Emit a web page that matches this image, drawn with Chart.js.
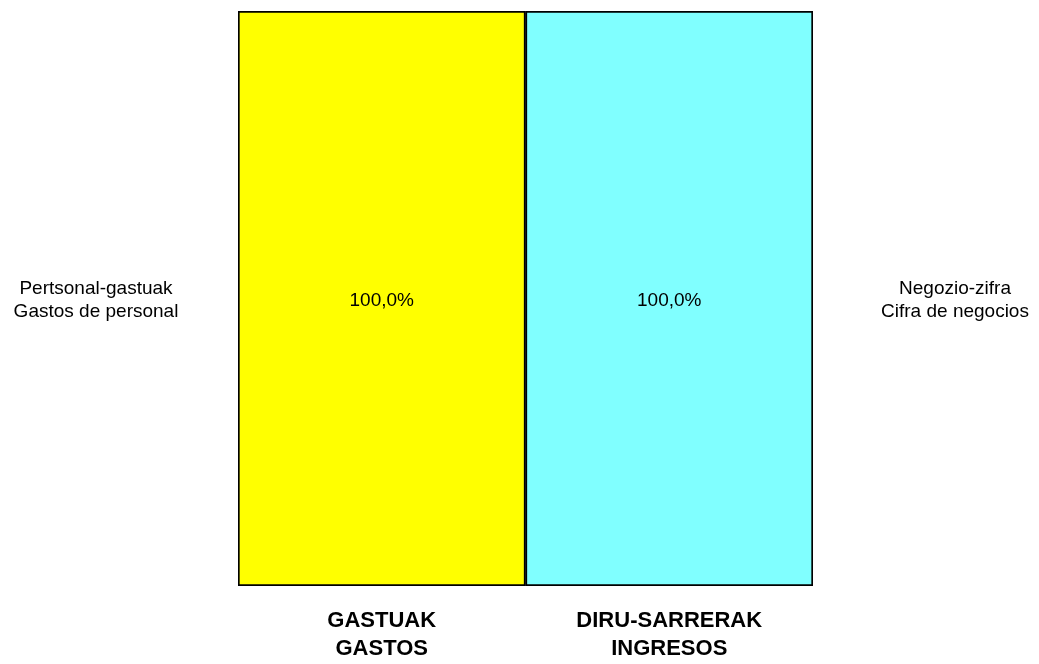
<!DOCTYPE html>
<html>
<head>
<meta charset="utf-8">
<script src="https://cdn.jsdelivr.net/npm/chart.js@4/dist/chart.umd.min.js"></script>
<style>
html,body{margin:0;padding:0;background:#fff;}
#wrap{width:1039px;height:664px;position:relative;}
</style>
</head>
<body>
<div id="wrap"><canvas id="c" width="1039" height="664"></canvas></div>
<script>
const categories = [["GASTUAK","GASTOS"],["DIRU-SARRERAK","INGRESOS"]];
const values = [100.0, 100.0];
const valueLabels = ["100,0%", "100,0%"];
const sideLabels = [["Pertsonal-gastuak","Gastos de personal"],["Negozio-zifra","Cifra de negocios"]];
const colors = ["#FFFF00", "#80FFFF"];

const FONT = "'Liberation Sans', Arial, sans-serif";

const labelPlugin = {
  id: 'labels',
  afterDatasetsDraw(chart) {
    const ctx = chart.ctx;
    const meta = chart.getDatasetMeta(0);
    const ys = chart.scales.y;
    const area = chart.chartArea;
    ctx.save();
    ctx.fillStyle = '#000';
    ctx.textAlign = 'center';
    ctx.textBaseline = 'middle';
    ctx.font = "19px " + FONT;
    meta.data.forEach((bar, i) => {
      const yc = ys.getPixelForValue(values[i] / 2) + 2;
      ctx.fillText(valueLabels[i], bar.x, yc);
      const lines = sideLabels[i];
      const xc = i === 0 ? area.left - 142 : area.right + 142;
      const lh = 23;
      lines.forEach((t, k) => {
        ctx.fillText(t, xc, yc + (k - (lines.length - 1) / 2) * lh);
      });
    });
    ctx.restore();
  }
};

new Chart(document.getElementById('c'), {
  type: 'bar',
  data: {
    labels: categories,
    datasets: [{
      data: values,
      backgroundColor: colors,
      borderColor: '#000',
      borderWidth: 2,
      borderSkipped: false,
      categoryPercentage: 1.0,
      barPercentage: 1.0
    }]
  },
  options: {
    responsive: false,
    animation: false,
    layout: { padding: { left: 238, right: 226, top: 11, bottom: 0 } },
    plugins: { legend: { display: false }, tooltip: { enabled: false } },
    scales: {
      x: {
        grid: { display: false },
        border: { display: false },
        afterFit(scale) { scale.height = 78; },
        ticks: {
          color: '#000',
          padding: 13,
          font: { family: FONT, size: 22, weight: 'bold', lineHeight: 28/22 },
          maxRotation: 0
        }
      },
      y: {
        display: false,
        min: 0,
        max: 100,
        stacked: true
      }
    }
  },
  plugins: [labelPlugin]
});
</script>
</body>
</html>
